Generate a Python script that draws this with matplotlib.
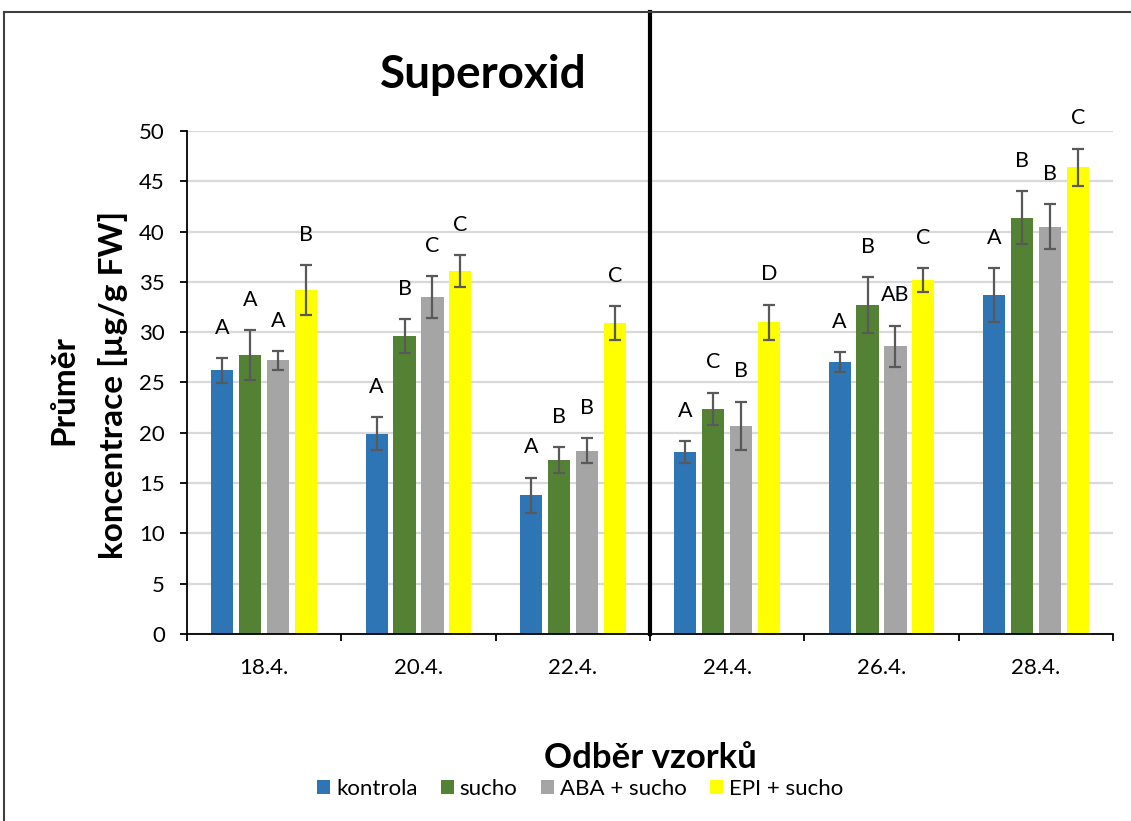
import matplotlib
matplotlib.use("Agg")
import numpy as np
import matplotlib.pyplot as plt
from matplotlib.lines import Line2D

# =========================
# DATA
# =========================
dates = ["18.4.", "20.4.", "22.4.", "24.4.", "26.4.", "28.4."]
series = ["kontrola", "sucho", "ABA + sucho", "EPI + sucho"]

kontrola = [26.2, 19.9, 13.8, 18.1, 27.0, 33.7]
sucho = [27.7, 29.6, 17.3, 22.4, 32.7, 41.4]
aba = [27.2, 33.5, 18.2, 20.7, 28.6, 40.5]
epi = [34.2, 36.1, 30.9, 31.0, 35.2, 46.4]

err_kontrola = [1.25, 1.65, 1.75, 1.1, 1.0, 2.65]
err_sucho = [2.5, 1.7, 1.3, 1.6, 2.8, 2.6]
err_aba = [0.95, 2.1, 1.25, 2.4, 2.05, 2.2]
err_epi = [2.5, 1.6, 1.7, 1.75, 1.2, 1.85]

pis_kontrola = ["A", "A", "A", "A", "A", "A"]
pis_sucho = ["A", "B", "B", "C", "B", "B"]
pis_aba = ["A", "C", "B", "B", "AB", "B"]
pis_epi = ["B", "C", "C", "D", "C", "C"]

hodnoty = [kontrola, sucho, aba, epi]
chyby = [err_kontrola, err_sucho, err_aba, err_epi]
pismena = [pis_kontrola, pis_sucho, pis_aba, pis_epi]
barvy = ["#2E75B6", "#548235", "#A5A5A5", "#FFFF00"]

# =========================
# GRAF
# =========================
plt.rcParams["font.family"] = ["Lato", "DejaVu Sans"]

W, H = 1131, 821
fig = plt.figure(figsize=(W / 100, H / 100), dpi=100)
ax = fig.add_axes([187 / W, 1 - 634 / H, (1113 - 187) / W, (634 - 131) / H])

x = np.arange(len(dates))
sirka = 0.143
krok = 0.181

for i, nazev in enumerate(series):
    pos = x + (i - 1.5) * krok
    ax.bar(pos, hodnoty[i], width=sirka, color=barvy[i], label=nazev, zorder=2)
    ax.errorbar(pos, hodnoty[i], yerr=chyby[i], fmt="none", ecolor="#595959",
                elinewidth=1.6, capsize=4.2, capthick=1.6, zorder=3)
    for j in range(len(dates)):
        ax.text(pos[j], hodnoty[i][j] + chyby[i][j] + 3.0, pismena[i][j],
                ha="center", va="center", fontsize=15.5, clip_on=False)

ax.set_xlim(-0.5, len(dates) - 0.5)
ax.set_ylim(0, 50)
ax.set_yticks(range(0, 51, 5))
ax.set_xticks(x)
ax.set_xticklabels(dates)
ax.set_xticks(np.arange(-0.5, len(dates), 1), minor=True)
ax.tick_params(axis="x", which="major", length=0, pad=17, labelsize=16)
ax.tick_params(axis="x", which="minor", length=5, width=1.3, direction="out")
ax.tick_params(axis="y", length=5, width=1.3, labelsize=16, pad=11)

ax.yaxis.grid(True, color="#D9D9D9", linewidth=1.6)
ax.set_axisbelow(True)
for s in ["top", "right"]:
    ax.spines[s].set_visible(False)
ax.spines["left"].set_linewidth(1.3)
ax.spines["bottom"].set_linewidth(1.3)

# nadpis a popisky
fig.text(483 / W, 1 - 88 / H, "Superoxid", fontsize=33, fontweight="bold",
         ha="center", va="baseline")
fig.text(64 / W, 1 - 390 / H, "Průměr", rotation=90, fontsize=24,
         fontweight="bold", ha="center", va="center")
fig.text(113 / W, 1 - 385 / H, "koncentrace [µg/g FW]", rotation=90, fontsize=24,
         fontweight="bold", ha="center", va="center")
fig.text(650 / W, 1 - 768 / H, "Odběr vzorků", fontsize=25, fontweight="bold",
         ha="center", va="baseline")

fig.legend(loc="center", bbox_to_anchor=(580 / W, 1 - 789 / H), ncol=4,
           frameon=False, fontsize=16, handlelength=0.6, handleheight=0.6,
           handletextpad=0.25, columnspacing=1.05)

# svisla cara a ramecek
fig.add_artist(Line2D([650 / W, 650 / W], [1 - 12 / H, 1 - 634 / H],
                      color="black", linewidth=3))
fig.add_artist(Line2D([4 / W, 1], [1 - 12 / H, 1 - 12 / H],
                      color="#404040", linewidth=1.5))
fig.add_artist(Line2D([4 / W, 4 / W], [1 - 12 / H, 0],
                      color="#404040", linewidth=1.5))

fig.savefig("out.png", dpi=100)
